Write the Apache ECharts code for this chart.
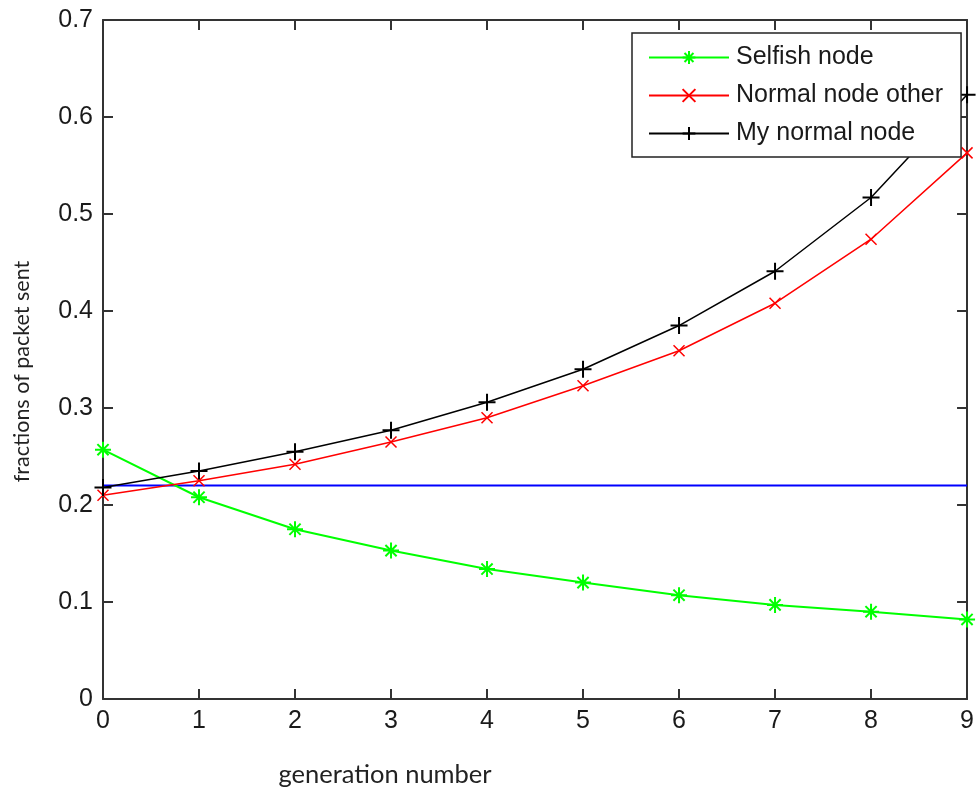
<!DOCTYPE html>
<html>
<head>
<meta charset="utf-8">
<script src="https://cdn.jsdelivr.net/npm/echarts@6/dist/echarts.min.js"></script>
<style>
  html, body { margin: 0; padding: 0; background: #fff; }
  #chart { width: 977px; height: 793px; }
</style>
</head>
<body>
<div id="chart"></div>
<script>
const generations = [0, 1, 2, 3, 4, 5, 6, 7, 8, 9];
const selfishNode = [0.257, 0.208, 0.175, 0.153, 0.134, 0.120, 0.107, 0.097, 0.090, 0.082];
const normalNodeOther = [0.210, 0.225, 0.242, 0.265, 0.290, 0.323, 0.359, 0.408, 0.474, 0.563];
const myNormalNode = [0.218, 0.235, 0.255, 0.277, 0.306, 0.340, 0.385, 0.441, 0.517, 0.623];
const thresholdLevel = 0.22;
const yTicks = [0, 0.1, 0.2, 0.3, 0.4, 0.5, 0.6, 0.7];

const font = '"Liberation Sans", Arial, sans-serif';
const nameFont = 'Lato, "Open Sans", sans-serif';
const axisColor = '#333';

const starPath = 'path://M5,0V10M0,5H10M1.5,1.5L8.5,8.5M8.5,1.5L1.5,8.5';
const crossPath = 'path://M0,0L10,10M10,0L0,10';
const plusPath = 'path://M5,0V10M0,5H10';

const pairs = (ys) => generations.map((g, i) => [g, ys[i]]);

const chart = echarts.init(document.getElementById('chart'));

const baseX = {
  type: 'value',
  min: 0,
  max: 9,
  interval: 1,
  axisLine: { show: true, onZero: false, lineStyle: { color: axisColor, width: 2 } },
  axisTick: { show: true, inside: true, length: 10, lineStyle: { color: axisColor, width: 2 } },
  splitLine: { show: false }
};
const baseY = {
  type: 'value',
  min: 0,
  max: 0.7,
  interval: 0.1,
  axisLine: { show: true, onZero: false, lineStyle: { color: axisColor, width: 2 } },
  axisTick: { show: true, inside: true, length: 10, lineStyle: { color: axisColor, width: 2 } },
  splitLine: { show: false }
};

const option = {
  animation: false,
  backgroundColor: '#fff',
  grid: { left: 103, right: 5, top: 20, bottom: 90 },
  legend: {
    orient: 'vertical',
    left: 632,
    top: 33,
    padding: [12, 18, 11, 16],
    itemWidth: 80,
    itemHeight: 16,
    itemGap: 13,
    backgroundColor: '#fff',
    borderColor: '#222',
    borderWidth: 1.5,
    borderRadius: 0,
    textStyle: { fontFamily: font, fontSize: 25, color: '#1a1a1a', padding: [0, 0, 0, 2] },
    data: ['Selfish node', 'Normal node other', 'My normal node']
  },
  xAxis: [
    Object.assign({}, baseX, {
      position: 'bottom',
      name: 'generation number',
      nameLocation: 'middle',
      nameGap: 63,
      nameTextStyle: { fontFamily: nameFont, fontSize: 25.5, color: '#222', padding: [0, 300, 0, 0] },
      axisLabel: { fontFamily: font, fontSize: 25, color: '#1a1a1a', margin: 10 }
    }),
    Object.assign({}, baseX, { position: 'top', axisLabel: { show: false } })
  ],
  yAxis: [
    Object.assign({}, baseY, {
      position: 'left',
      name: 'fractions of packet sent',
      nameLocation: 'middle',
      nameGap: 70,
      nameTextStyle: { fontFamily: nameFont, fontSize: 21.5, color: '#222', padding: [0, 24, 0, 0] },
      axisLabel: {
        fontFamily: font, fontSize: 25, color: '#1a1a1a', margin: 10,
        formatter: (v) => String(yTicks.find(t => Math.abs(t - v) < 1e-9) ?? v)
      }
    }),
    Object.assign({}, baseY, { position: 'right', axisLabel: { show: false } })
  ],
  series: [
    {
      name: 'Selfish node',
      type: 'line',
      data: pairs(selfishNode),
      clip: false,
      symbol: starPath,
      symbolSize: 16,
      lineStyle: { color: '#00ff00', width: 2 },
      itemStyle: { color: '#00ff00', borderColor: '#00ff00', borderWidth: 2 }
    },
    {
      name: 'Normal node other',
      type: 'line',
      data: pairs(normalNodeOther),
      clip: false,
      symbol: crossPath,
      symbolSize: 11,
      lineStyle: { color: '#ff0000', width: 1.5 },
      itemStyle: { color: '#ff0000', borderColor: '#ff0000', borderWidth: 1.5 }
    },
    {
      name: 'My normal node',
      type: 'line',
      data: pairs(myNormalNode),
      clip: false,
      symbol: plusPath,
      symbolSize: 17,
      lineStyle: { color: '#000000', width: 1.5 },
      itemStyle: { color: '#000000', borderColor: '#000000', borderWidth: 2 }
    },
    {
      name: 'threshold',
      type: 'line',
      data: [[generations[0], thresholdLevel], [generations[generations.length - 1], thresholdLevel]],
      symbol: 'none',
      lineStyle: { color: '#0000ff', width: 2 },
      z: 1
    }
  ]
};

chart.setOption(option);
</script>
</body>
</html>
